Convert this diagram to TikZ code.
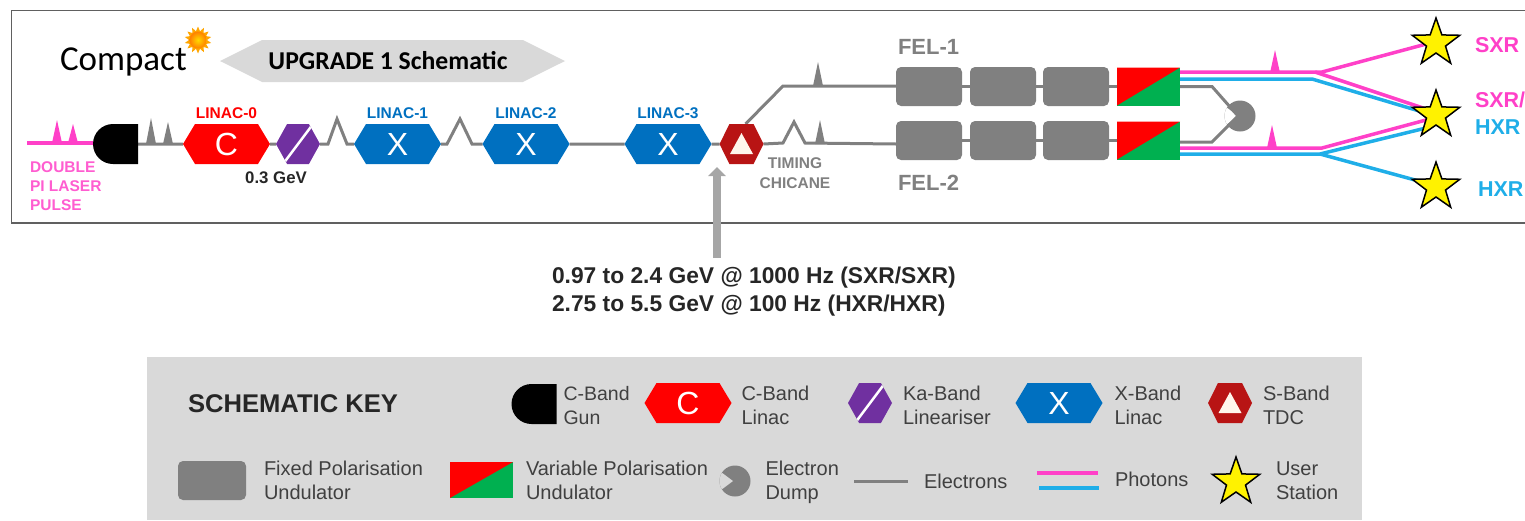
\documentclass[tikz,border=0pt]{standalone}
\usepackage{fontspec}
\setmainfont{Liberation Sans}
\newfontfamily\calibfont{Carlito}
\usetikzlibrary{shapes,shapes.geometric,shapes.symbols,shapes.misc,arrows,arrows.meta,positioning,backgrounds}

\definecolor{linacred}{HTML}{FF0000}
\definecolor{xblue}{HTML}{0070C0}
\definecolor{kapurple}{HTML}{7030A0}
\definecolor{tdcred}{HTML}{B81414}
\definecolor{undgray}{HTML}{808080}
\definecolor{varigreen}{HTML}{00B050}
\definecolor{pinkph}{HTML}{FF40C8}
\definecolor{bluephot}{HTML}{1FAEE8}
\definecolor{keygray}{HTML}{D9D9D9}
\definecolor{framegray}{HTML}{606060}
\definecolor{keytext}{HTML}{404040}

\tikzset{
    base/.style={inner sep=0pt, outer sep=0pt},
    hexa/.style={base, signal, signal to=west and east, signal pointer angle=118, minimum width=87pt, minimum height=40pt, text=white, font=\fontsize{32}{32}\selectfont},
    gun/.style={base, rounded rectangle, rounded rectangle east arc=none, fill=black, minimum width=45pt, minimum height=40pt},
    clinac/.style={hexa, fill=linacred},
    xlinac/.style={hexa, fill=xblue},
    kaband/.style={hexa, signal pointer angle=122, minimum width=44pt, fill=kapurple, path picture={\draw[white, line width=2.5pt] ([xshift=7pt]path picture bounding box.south west) -- ([xshift=-7pt]path picture bounding box.north east);}},
    tdc/.style={hexa, signal pointer angle=127, minimum width=44pt, fill=tdcred, path picture={\fill[white!92!orange] ([yshift=11pt]path picture bounding box.center) -- ++(-11.5pt,-21pt) -- ++(23pt,0pt) -- cycle;}},
    fixund/.style={base, draw=none, fill=undgray, rounded corners=5pt, minimum width=66pt, minimum height=39pt},
    varund/.style={base, fill=varigreen, minimum width=63pt, minimum height=38pt, path picture={\fill[linacred] (path picture bounding box.south west) -- (path picture bounding box.north west) -- (path picture bounding box.north east) -- cycle;}},
    dump/.style={base, circle, fill=undgray, minimum size=31pt, path picture={\fill[#1] ([xshift=-2pt]path picture bounding box.center) -- ++(-20pt,15pt) -- ++(0pt,-30pt) -- cycle;}},
    dump/.default=white,
    station/.style={base, star, star points=5, star point ratio=2.5, fill=yellow, draw=black, line width=1.5pt, minimum size=50pt},
    elec/.style={draw=undgray, line width=3pt},
    pph/.style={draw=pinkph, line width=3.5pt},
    bph/.style={draw=bluephot, line width=3.5pt},
    blab/.style={base, font=\bfseries\fontsize{15.5}{19}\selectfont, align=left},
    glab/.style={base, font=\bfseries\fontsize{15.5}{20}\selectfont, align=center, text=undgray},
    fellab/.style={base, font=\bfseries\fontsize{22}{22}\selectfont, text=undgray},
    xlab/.style={base, font=\bfseries\fontsize{21.5}{21.5}\selectfont},
    keylab/.style={base, font=\fontsize{20}{24}\selectfont, align=left, text=keytext, anchor=west},
    keytop/.style={keylab, yshift=-2pt},
}

\begin{document}
\begin{tikzpicture}[x=1pt, y=-1pt, >=stealth, thick]
    \useasboundingbox (0,0) rectangle (1525,520);

    % Frame and key panel
    \draw [framegray, line width=1.2pt] (1530,10.5) -- (11.5,10.5) -- (11.5,223) -- (1530,223);
    \fill [keygray] (147,357) rectangle (1362,520);

    % Title
    \node [base, font=\calibfont\fontsize{35}{35}\selectfont, anchor=west] (title) at (60,62) {Compact};
    \node [base, star, star points=14, star point ratio=1.5, fill=orange!70!yellow, minimum size=27pt] (sunrays) at (198,40) {};
    \node [base, circle, shading=radial, inner color=yellow!70!orange, outer color=orange, minimum size=17pt] (suncore) at (198,40) {};
    \node [base, signal, signal to=west and east, signal pointer angle=53, fill=keygray, minimum width=345pt, minimum height=42pt, font=\calibfont\bfseries\fontsize{25.7}{25.7}\selectfont] (upgrade) at (392.5,61) {UPGRADE 1 Schematic\rule{9pt}{0pt}};

    % Beamline
    \node [gun] (gun0) at (115.5,144) {};
    \coordinate (laser) at (27,143);
    \node [clinac, right=45pt of gun0] (linac0) {C};
    \node [kaband, right=6pt of linac0] (lin) {};
    \node [xlinac, right=34pt of lin] (linac1) {X};
    \node [xlinac, right=41.5pt of linac1] (linac2) {X};
    \node [xlinac, right=55pt of linac2] (linac3) {X};
    \node [tdc, right=8pt of linac3] (tdc0) {};

    % Undulators
    \node [fixund] (fel1a) at (929,86.5) {};
    \node [fixund, right=8pt of fel1a] (fel1b) {};
    \node [fixund, right=7pt of fel1b] (fel1c) {};
    \node [varund, right=8pt of fel1c] (var1) {};
    \node [fixund] (fel2a) at (929,140.5) {};
    \node [fixund, right=8pt of fel2a] (fel2b) {};
    \node [fixund, right=7pt of fel2b] (fel2c) {};
    \node [varund, right=8pt of fel2c] (var2) {};
    \node [dump] (dump0) at (1240,116) {};

    % Stations
    \node [station] (st1) at (1436,43) {};
    \node [station] (st2) at (1436,115) {};
    \node [station] (st3) at (1436,187) {};

    % Edges
    \begin{scope}[on background layer]
        \draw [pph] (laser) -- (gun0.west |- laser);
        \draw [elec] (gun0) -- (linac0);
        \draw [elec] (linac0) -- (lin);
        \draw [elec] (lin.east) -- ++(8,0) -- ++(9,-25) -- ++(10,25) -- (linac1.west);
        \draw [elec] (linac1.east) -- ++(6,0) -- ++(13,-25) -- ++(12,25) -- (linac2.west);
        \draw [elec] (linac2) -- (linac3);
        \draw [elec] (linac3) -- (tdc0);
        \draw [elec] (tdc0.north east) ++(-8,0) -- (783,86) -- (fel1a.west |- 0,86);
        \draw [elec] (tdc0.east) -- (783,143) -- (794,122) -- (805,143) -- (fel2a.west |- tdc0.east);
        \draw [elec] (fel1a) -- (fel1b);
        \draw [elec] (fel1b) -- (fel1c);
        \draw [elec] (fel1c) -- (var1);
        \draw [elec] (fel2a) -- (fel2b);
        \draw [elec] (fel2b) -- (fel2c);
        \draw [elec] (fel2c) -- (var2);
        % Photons
        \draw [pph] ([yshift=14.5pt]var1.east) -- (1322,72) -- ([xshift=-6pt]st1.center);
        \draw [pph] (1315,72) -- ([xshift=-10pt,yshift=6pt]st2.center);
        \draw [bph] ([yshift=7.5pt]var1.east) -- (1312,79) -- ([xshift=-10pt,yshift=2pt]st2.center);
        \draw [pph] ([yshift=-7.5pt]var2.east) -- (1322,148) -- ([xshift=-10pt,yshift=-5pt]st2.center);
        \draw [bph] ([yshift=-13.5pt]var2.east) -- (1320,154) -- ([xshift=-10pt,yshift=-13pt]st2.center);
        \draw [bph] (1320,154) -- ([xshift=-10pt,yshift=4pt]st3.center);
    \end{scope}
    \draw [elec] (var1.east) -- ++(32,0) -- ([xshift=-2pt]dump0.center);
    \draw [elec] ([yshift=-1.5pt]var2.east) -- ++(32,0) -- ([xshift=-2pt]dump0.center);

    % Pulses
    \foreach \px/\py/\pt/\pc in {57/143/120/pinkph, 73/143/124/pinkph, 151/144/118/undgray, 168/144/122/undgray, 818/86/62/undgray, 820/144/120/undgray, 1275/73/50/pinkph, 1272/148/125/pinkph}
        \fill [\pc] (\px-5,\py) -- (\px,\pt) -- (\px+5,\py) -- cycle;

    % Labels
    \node [blab, text=linacred, above=5pt of linac0] (lab0) {LINAC-0};
    \node [blab, text=xblue, above=5pt of linac1] (lab1) {LINAC-1};
    \node [blab, text=xblue, above=5pt of linac2] (lab2) {LINAC-2};
    \node [blab, text=xblue, above=5pt of linac3] (lab3) {LINAC-3};
    \node [blab, font=\bfseries\fontsize{16.8}{19}\selectfont, text=black!85] (gev) at (276,178) {0.3 GeV};
    \node [blab, text=pinkph!85!white, anchor=north west] (pulse) at (30,162) {DOUBLE\\PI LASER\\PULSE};
    \node [glab] (chicane) at (795,173) {TIMING\\CHICANE};
    \node [fellab, anchor=west] (fel1) at (898,47) {FEL-1};
    \node [fellab, anchor=west] (fel2) at (898,183) {FEL-2};
    \node [xlab, text=pinkph, anchor=west] (sxr1) at (1475,45) {SXR};
    \node [xlab, text=pinkph, anchor=west] (sxr2) at (1475,100) {SXR/};
    \node [xlab, text=bluephot, anchor=west] (hxr1) at (1475,127) {HXR};
    \node [xlab, text=bluephot, anchor=west] (hxr2) at (1478,189) {HXR};

    % Energy note
    \node [base, font=\bfseries\fontsize{22.8}{28}\selectfont, align=left, anchor=west, text=black!85] (energy) at (552,292) {0.97 to 2.4 GeV @ 1000 Hz (SXR/SXR)\\2.75 to 5.5 GeV @ 100 Hz (HXR/HXR)};
    \coordinate (arrowtail) at (717,258);
    \coordinate (arrowtip) at (717,167);
    \draw [-{Triangle[length=9pt,width=17pt]}, draw=black!35, fill=black!35, line width=8pt] (arrowtail) -- (arrowtip);

    % Key
    \node [base, font=\bfseries\fontsize{25.6}{26}\selectfont, text=black!85, anchor=west] (keytitle) at (188,404) {SCHEMATIC KEY};
    \node [gun] (kgun) at (534,404) {};
    \node [keytop, font=\fontsize{19.5}{24}\selectfont, right=7pt of kgun] (kguntxt) {C-Band\\Gun};
    \node [clinac] (kc) at (688,403) {C};
    \node [keytop, right=10pt of kc] (kctxt) {C-Band\\Linac};
    \node [kaband] (kka) at (870,403) {};
    \node [keytop, right=11pt of kka] (kkatxt) {Ka-Band\\Lineariser};
    \node [xlinac] (kx) at (1059,403) {X};
    \node [keytop, right=12pt of kx] (kxtxt) {X-Band\\Linac};
    \node [tdc] (ktdc) at (1230,403) {};
    \node [keytop, right=11pt of ktdc] (ktdctxt) {S-Band\\TDC};
    \node [fixund, minimum width=68pt] (kfix) at (212,480.5) {};
    \node [keylab, right=18pt of kfix] (kfixtxt) {Fixed Polarisation\\Undulator};
    \node [varund, minimum height=36pt] (kvar) at (481.5,480) {};
    \node [keylab, right=13pt of kvar] (kvartxt) {Variable Polarisation\\Undulator};
    \node [dump=keygray] (kdump) at (735,481) {};
    \node [keylab, yshift=-1pt, right=15pt of kdump] (kdumptxt) {Electron\\Dump};
    \coordinate (kea) at (854,481);
    \coordinate (keb) at (908,481);
    \draw [elec] (kea) -- (keb);
    \node [keylab, anchor=west] (ketxt) at (924,481) {Electrons};
    \coordinate (kpa) at (1037,473);
    \coordinate (kpb) at (1098,473);
    \coordinate (kba) at (1039,488);
    \coordinate (kbb) at (1099,488);
    \draw [pph] (kpa) -- (kpb);
    \draw [bph] (kba) -- (kbb);
    \node [keylab, anchor=west] (kphtxt) at (1115,479) {Photons};
    \node [station] (kst) at (1236,482) {};
    \node [keylab, anchor=west] (ksttxt) at (1276,481) {User\\Station};
\end{tikzpicture}
\end{document}
